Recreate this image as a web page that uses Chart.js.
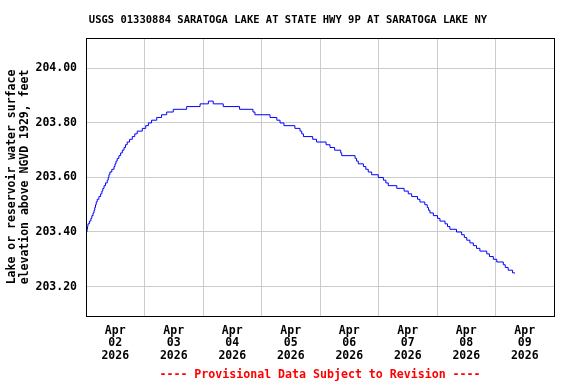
<!DOCTYPE html>
<html>
<head>
<meta charset="utf-8">
<script src="https://cdn.jsdelivr.net/npm/chart.js@4"></script>
<style>
html, body { margin: 0; padding: 0; background: #fff; }
</style>
</head>
<body>
<canvas id="levelChart" width="576" height="384"></canvas>
<script>
// hours since Apr 02 2026 00:00, level changes
var hours = [
    0, 0.4, 0.6, 0.8, 1.4, 2.0, 2.4, 2.9, 3.3, 3.6, 3.9, 4.2, 4.6, 5.3, 6.0, 6.5, 6.9, 7.4, 8.0, 8.7,
    9.1, 9.4, 9.8, 10.6, 11.5, 11.9, 12.3, 12.8, 13.5, 14.2, 14.9, 15.6, 16.2, 16.9, 17.9, 19.0, 20.0, 21.0, 23.1, 24.5,
    25.6, 26.9, 29.0, 31.0, 33.1, 35.8, 41.3, 46.8, 50.2, 52.2, 56.3, 63.0, 68.5, 69.3, 75.5, 78.3, 79.6, 81.2, 85.7, 87.8,
    88.5, 89.2, 93.0, 94.6, 98.5, 100.1, 102.0, 104.5, 104.9, 110.4, 111.0, 111.7, 113.8, 114.8, 115.8, 117.2, 119.9, 122.0, 123.0, 124.0,
    127.5, 130.5, 132.2, 133.6, 136.0, 137.0, 139.0, 140.0, 140.5, 141.1, 142.5, 144.2, 145.2, 147.3, 148.3, 149.3, 152.0, 154.1, 155.2, 156.2,
    157.5, 158.9, 160.2, 161.6, 164.4, 165.5, 167.1, 168.5, 171.2, 172.0, 173.2, 175.0, 176.0
];
var levels = [
    203.40, 203.41, 203.42, 203.43, 203.44, 203.45, 203.46, 203.47, 203.48, 203.49, 203.50, 203.51, 203.52, 203.53, 203.54, 203.55, 203.56, 203.57, 203.58, 203.59,
    203.60, 203.61, 203.62, 203.63, 203.64, 203.65, 203.66, 203.67, 203.68, 203.69, 203.70, 203.71, 203.72, 203.73, 203.74, 203.75, 203.76, 203.77, 203.78, 203.79,
    203.80, 203.81, 203.82, 203.83, 203.84, 203.85, 203.86, 203.87, 203.88, 203.87, 203.86, 203.85, 203.84, 203.83, 203.82, 203.81, 203.80, 203.79, 203.78, 203.77,
    203.76, 203.75, 203.74, 203.73, 203.72, 203.71, 203.70, 203.69, 203.68, 203.67, 203.66, 203.65, 203.64, 203.63, 203.62, 203.61, 203.60, 203.59, 203.58, 203.57,
    203.56, 203.55, 203.54, 203.53, 203.52, 203.51, 203.50, 203.49, 203.48, 203.47, 203.46, 203.45, 203.44, 203.43, 203.42, 203.41, 203.40, 203.39, 203.38, 203.37,
    203.36, 203.35, 203.34, 203.33, 203.32, 203.31, 203.30, 203.29, 203.28, 203.27, 203.26, 203.25, 203.25
];
var dayLabels = ['02', '03', '04', '05', '06', '07', '08', '09'];
var yTicks = [203.2, 203.4, 203.6, 203.8, 204.0];

var MONO = "'DejaVu Sans Mono', 'Liberation Mono', monospace";

var Gage = {
    init: function () {
        var points = [];
        for (var i = 0; i < hours.length; i++) {
            points.push({x: hours[i], y: levels[i]});
        }

        // ticks every 12 h: grid on the midnights, labels on the noons
        var xTicks = [];
        for (var h = 0; h <= dayLabels.length * 24; h += 12) {
            xTicks.push(h);
        }

        // black frame round the plot
        var frame = {
            id: 'frame',
            afterDatasetsDraw: function (chart) {
                var a = chart.chartArea;
                var c = chart.ctx;
                c.save();
                c.strokeStyle = '#000';
                c.lineWidth = 1;
                c.strokeRect(Math.round(a.left) + 0.5, Math.round(a.top) + 0.5,
                    Math.round(a.right - a.left), Math.round(a.bottom - a.top));
                c.restore();
            }
        };

        new Chart(document.getElementById('levelChart'), {
            type: 'line',
            data: {
                datasets: [{
                    data: points,
                    borderColor: '#0000ff',
                    borderWidth: 1,
                    pointRadius: 0,
                    stepped: true,
                    fill: false
                }]
            },
            options: {
                responsive: false,
                animation: false,
                devicePixelRatio: 1,
                layout: {padding: 0},
                plugins: {
                    legend: {display: false},
                    tooltip: {enabled: false},
                    title: {
                        display: true,
                        text: 'USGS 01330884 SARATOGA LAKE AT STATE HWY 9P AT SARATOGA LAKE NY',
                        color: '#000',
                        font: {family: MONO, size: 10.5, weight: 'bold', lineHeight: 1.2},
                        padding: {top: 14, bottom: 11.4}
                    },
                    subtitle: {
                        display: true,
                        position: 'bottom',
                        fullSize: false,
                        text: '---- Provisional Data Subject to Revision ----',
                        color: '#ff0000',
                        font: {family: MONO, size: 11.6, weight: 'bold', lineHeight: 1.2},
                        padding: {top: 5.8, bottom: 2}
                    }
                },
                scales: {
                    x: {
                        type: 'linear',
                        min: 0,
                        max: dayLabels.length * 24,
                        afterBuildTicks: function (scale) {
                            scale.ticks = xTicks.map(function (v) { return {value: v}; });
                        },
                        afterFit: function (scale) {
                            scale.height = 46.3;
                        },
                        border: {display: false},
                        grid: {
                            drawTicks: false,
                            color: function (ctx) {
                                return ctx.tick && ctx.tick.value % 24 === 0 ? '#cccccc' : 'rgba(0,0,0,0)';
                            }
                        },
                        ticks: {
                            autoSkip: false,
                            maxRotation: 0,
                            padding: 8.3,
                            color: '#000',
                            font: {family: MONO, size: 11.5, weight: 'bold', lineHeight: 1.1},
                            callback: function (value) {
                                if (value % 24 === 12) {
                                    return ['Apr', dayLabels[(value - 12) / 24], '2026'];
                                }
                                return '';
                            }
                        }
                    },
                    y: {
                        min: 203.092,
                        max: 204.1115,
                        afterBuildTicks: function (scale) {
                            scale.ticks = yTicks.map(function (v) { return {value: v}; });
                        },
                        afterFit: function (scale) {
                            scale.width = 86;
                        },
                        border: {display: false},
                        grid: {drawTicks: false, color: '#cccccc'},
                        ticks: {
                            padding: 9,
                            color: '#000',
                            font: {family: MONO, size: 11.5, weight: 'bold'},
                            callback: function (value) {
                                return value.toFixed(2);
                            }
                        },
                        title: {
                            display: true,
                            text: ['Lake or reservoir water surface', 'elevation above NGVD 1929, feet'],
                            color: '#000',
                            font: {family: MONO, size: 11.5, weight: 'bold', lineHeight: 1.13},
                            padding: {top: 5.5, bottom: 0}
                        }
                    },
                    // empty strip on the right of the frame
                    yRight: {
                        position: 'right',
                        display: true,
                        afterFit: function (scale) {
                            scale.width = 22;
                        },
                        border: {display: false},
                        grid: {display: false},
                        ticks: {display: false}
                    }
                }
            },
            plugins: [frame]
        });
    }
};

Gage.init();
</script>
</body>
</html>
